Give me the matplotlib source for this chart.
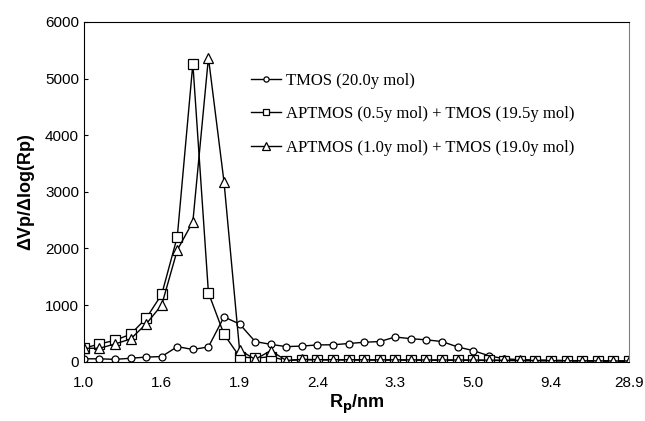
import matplotlib.pyplot as plt
import numpy as np

# pore radius classes (categorical, evenly spaced), labels every 5th point
tick_labels = ['1.0', '1.6', '1.9', '2.4', '3.3', '5.0', '9.4', '28.9']

tmos = [50, 50, 40, 60, 80, 90, 265, 215, 260, 790, 665, 355, 305, 265, 275,
        295, 298, 320, 342, 355, 435, 405, 385, 355, 260, 195, 105, 50, 35, 30,
        25, 20, 15, 15, 10, 10]
aptmos_05 = [236, 312, 377, 483, 765, 1188, 2205, 5262, 1217, 483, 88, 60, 88, 20, 35,
             30, 30, 30, 28, 28, 27, 27, 26, 25, 25, 24, 22, 20, 18, 16,
             15, 14, 12, 12, 10, 10]
aptmos_10 = [236, 236, 312, 400, 665, 1000, 1970, 2470, 5368, 3175, 206, 40, 194, 20, 40,
             35, 35, 34, 33, 32, 32, 31, 30, 30, 29, 28, 26, 24, 22, 20,
             18, 16, 15, 14, 12, 12]

labels = ['TMOS (20.0y mol)',
          'APTMOS (0.5y mol) + TMOS (19.5y mol)',
          'APTMOS (1.0y mol) + TMOS (19.0y mol)']

idx = np.arange(len(tmos))

fig = plt.figure(figsize=(6.45, 4.21), dpi=100)
ax = fig.add_axes([0.130, 0.141, 0.845, 0.807])

ax.plot(idx, tmos, '-o', color='k', lw=1, ms=5, mfc='white', mec='k', mew=0.9,
        label=labels[0])
ax.plot(idx, aptmos_05, '-s', color='k', lw=1, ms=6.5, mfc='white', mec='k', mew=0.9,
        label=labels[1])
ax.plot(idx, aptmos_10, '-^', color='k', lw=1, ms=7, mfc='white', mec='k', mew=0.9,
        label=labels[2])

ax.set_xlim(0, len(tmos) - 1)
ax.set_ylim(0, 6000)
ax.set_xticks(idx[::5])
ax.set_xticklabels(tick_labels)
ax.set_yticks(range(0, 6001, 1000))
ax.tick_params(axis='both', labelsize=11, direction='in', length=3)
ax.tick_params(axis='x', length=0, pad=10)
for lab in ax.get_xticklabels() + ax.get_yticklabels():
    lab.set_fontfamily('Liberation Sans')

ax.spines['right'].set_color('0.5')
ax.spines['right'].set_linewidth(0.8)

ax.set_ylabel('ΔVp/Δlog(Rp)', fontsize=13, fontweight='bold',
              fontfamily='Liberation Sans', labelpad=8)
ax.set_xlabel('R$_\\mathbf{p}$/nm', fontsize=13, fontweight='bold',
              fontfamily='Liberation Sans', labelpad=2)

leg = ax.legend(loc='upper left', bbox_to_anchor=(0.28, 0.895), frameon=False,
                prop={'family': 'Liberation Serif', 'size': 12},
                handlelength=1.8, handletextpad=0.3, labelspacing=1.05,
                markerscale=0.75)

fig.savefig('out.png', dpi=100)
